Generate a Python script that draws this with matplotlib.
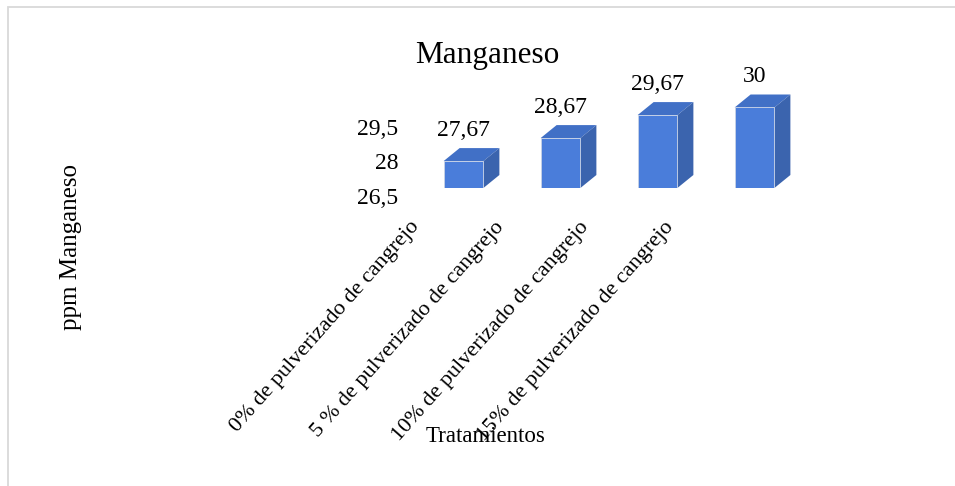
import matplotlib
matplotlib.use("Agg")
import matplotlib.pyplot as plt
from matplotlib.patches import Polygon, Rectangle
from matplotlib.transforms import ScaledTranslation

plt.rcParams['font.family'] = ['Liberation Serif', 'DejaVu Serif']

categorias = ["0% de pulverizado de cangrejo", "5 % de pulverizado de cangrejo",
              "10% de pulverizado de cangrejo", "15% de pulverizado de cangrejo"]
valores = [27.67, 28.67, 29.67, 30]
etiquetas = ["27,67", "28,67", "29,67", "30"]
y_ticks = [26.5, 28, 29.5]
y_tick_labels = ["26,5", "28", "29,5"]

W, H = 955, 486
fig = plt.figure(figsize=(W / 100, H / 100), dpi=100)

# thin gray frame (only top and left are visible in the reference)
fig.patches.append(Rectangle((8 / W, -0.1), 1.2, (H - 6.5) / H + 0.1, transform=fig.transFigure,
                             fill=False, edgecolor='#d9d9d9', linewidth=1.3))

# main plot area in pixels
ax_left, ax_right, ax_top, ax_bottom = 415, 803, 84.5, 188
ax = fig.add_axes([ax_left / W, 1 - ax_bottom / H, (ax_right - ax_left) / W, (ax_bottom - ax_top) / H])
ax.set_xlim(-0.5, 3.5)
ax.set_ylim(26.5, 31)
ax.patch.set_alpha(0)
for s in ax.spines.values():
    s.set_visible(False)

width = 0.41
c_front, c_top, c_side = '#4a7dda', '#4170c6', '#3b64ae'
# depth of the fake 3d box, converted from pixels to data units
px_x = (ax_right - ax_left) / 4.0
px_y = (ax_bottom - ax_top) / 4.5
dx, dy = 16 / px_x, 13 / px_y
base = 26.5

x = list(range(len(valores)))
bars = ax.bar(x, [v - base for v in valores], width=width, bottom=base, color=c_front,
              edgecolor='#c9d3e6', linewidth=0.6, zorder=3)
for xi, v in zip(x, valores):
    x0, x1 = xi - width / 2, xi + width / 2
    ax.add_patch(Polygon([(x0, v), (x1, v), (x1 + dx, v + dy), (x0 + dx, v + dy)],
                         closed=True, facecolor=c_top, edgecolor='none', zorder=2))
    ax.add_patch(Polygon([(x1, base), (x1, v), (x1 + dx, v + dy), (x1 + dx, base + dy)],
                         closed=True, facecolor=c_side, edgecolor='none', zorder=2))

for xi, v, t in zip(x, valores, etiquetas):
    ax.annotate(t, (xi, v), xytext=(0, 18), textcoords='offset points',
                ha='center', va='baseline', fontsize=17)

ax.set_xticks([])
ax.set_yticks(y_ticks)
ax.set_yticklabels(y_tick_labels, fontsize=17)
ax.tick_params(axis='y', length=0, pad=12)
off = ScaledTranslation(0, -8 / 100, fig.dpi_scale_trans)
for lab in ax.get_yticklabels():
    lab.set_transform(lab.get_transform() + off)

# category labels sit on the floor of the 3d box, slightly narrower spacing
lab_left, lab_step = 416 - 42.5, 85
lax = fig.add_axes([lab_left / W, 1 - 224 / H, 4 * lab_step / W, 0.0001])
lax.set_xlim(-0.5, 3.5)
lax.set_yticks([])
for s in lax.spines.values():
    s.set_visible(False)
lax.patch.set_alpha(0)
lax.set_xticks(x)
lax.set_xticklabels(categorias, rotation=48.5, ha='right', va='center', rotation_mode='anchor', fontsize=16)
lax.tick_params(axis='x', length=0, pad=0)

fig.text(487.5 / W, 1 - 63 / H, "Manganeso", ha='center', va='baseline', fontsize=22.5)
fig.text(71 / W, 1 - 247 / H, "ppm Manganeso", ha='center', va='center', rotation=90, fontsize=18)
fig.text(486 / W, 1 - 437 / H, "Tratamientos", ha='center', va='center', fontsize=16.5)

fig.savefig("out.png", dpi=100)
